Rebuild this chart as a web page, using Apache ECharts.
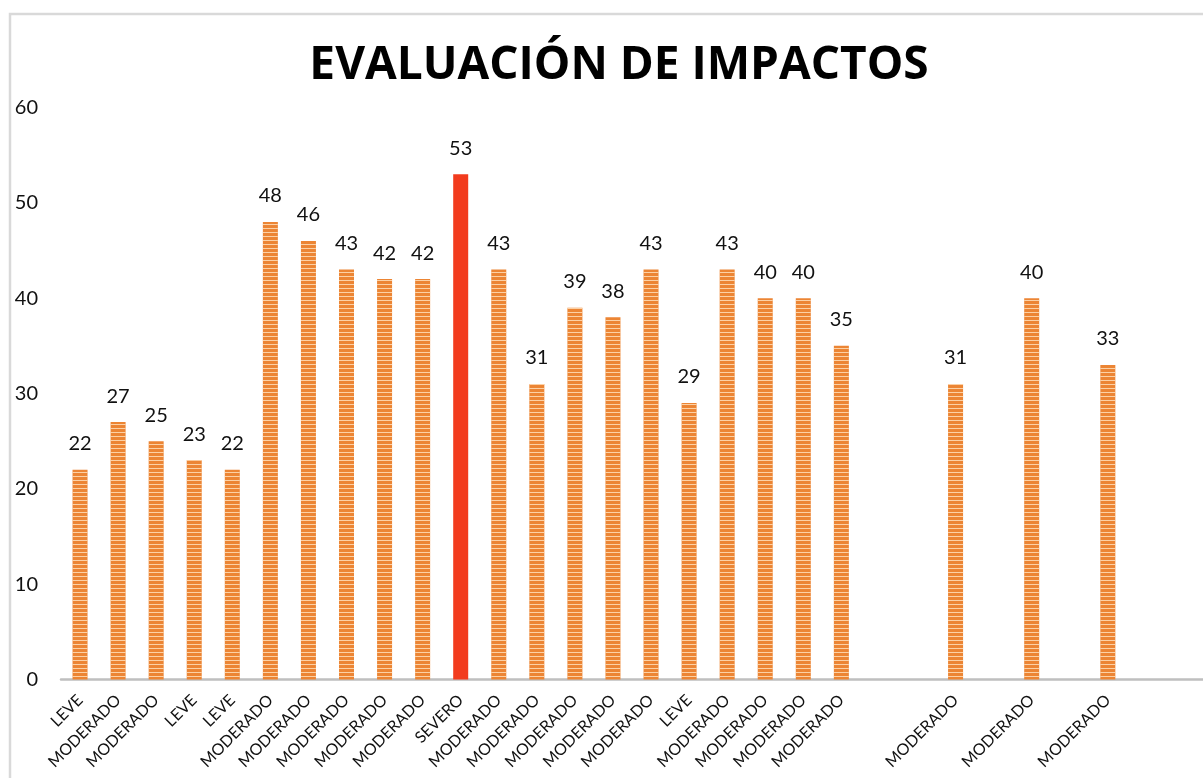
<!DOCTYPE html>
<html>
<head>
<meta charset="utf-8">
<title>Evaluación de impactos</title>
<script src="https://cdn.jsdelivr.net/npm/echarts@6/dist/echarts.min.js"></script>
<style>
  html, body { margin: 0; padding: 0; background: #ffffff; }
  #chart { width: 1203px; height: 778px; }
</style>
</head>
<body>
<div id="chart"></div>
<script>
// Nivel de impacto de cada actividad (las casillas vacías quedan sin barra)
const niveles = [
  'LEVE', 'MODERADO', 'MODERADO', 'LEVE', 'LEVE',
  'MODERADO', 'MODERADO', 'MODERADO', 'MODERADO', 'MODERADO',
  'SEVERO', 'MODERADO', 'MODERADO', 'MODERADO', 'MODERADO',
  'MODERADO', 'LEVE', 'MODERADO', 'MODERADO', 'MODERADO',
  'MODERADO', '', '', 'MODERADO', '',
  'MODERADO', '', 'MODERADO', '', ''
];

// Puntaje de importancia de cada impacto
const puntajes = [
  22, 27, 25, 23, 22,
  48, 46, 43, 42, 42,
  53, 43, 31, 39, 38,
  43, 29, 43, 40, 40,
  35, null, null, 31, null,
  40, null, 33, null, null
];

// Marcas del eje de valores
const ejeY = { min: 0, max: 60, intervalo: 10 };

const FONT = 'Lato, Carlito, "Liberation Sans", sans-serif';
const TEXTO = '#111111';

// Barras naranjas (leve / moderado) y roja (severo), superpuestas en la misma casilla
const datosNormales = puntajes.map((v, i) => (v != null && niveles[i] !== 'SEVERO') ? v : '-');
const datosSeveros = puntajes.map((v, i) => (v != null && niveles[i] === 'SEVERO') ? v : '-');

const etiquetaValor = {
  show: true,
  position: 'top',
  distance: 16,
  fontFamily: FONT,
  fontSize: 20,
  color: TEXTO
};

const chart = echarts.init(document.getElementById('chart'), null, { renderer: 'canvas' });

chart.setOption({
  backgroundColor: '#ffffff',
  animation: false,
  title: {
    text: 'EVALUACIÓN DE IMPACTOS',
    left: 614,
    top: 38,
    textAlign: 'center',
    textStyle: {
      fontFamily: '"Open Sans", "DejaVu Sans", sans-serif',
      fontWeight: 'bold',
      fontSize: 46,
      color: '#000000'
    }
  },
  graphic: [{
    type: 'rect',
    z: -10,
    silent: true,
    shape: { x: 10, y: 14, width: 1300, height: 900 },
    style: { fill: 'none', stroke: '#d9d9d9', lineWidth: 2.5 }
  }],
  grid: {
    left: 61,
    right: 0,
    top: 107.5,
    bottom: 98.5,
    containLabel: false
  },
  xAxis: {
    type: 'category',
    data: niveles,
    axisLine: { show: true, lineStyle: { color: '#bfbfbf', width: 2.5 } },
    axisTick: { show: false },
    axisLabel: {
      interval: 0,
      rotate: 45,
      margin: 18,
      fontFamily: FONT,
      fontSize: 16,
      color: TEXTO
    },
    splitLine: { show: false }
  },
  yAxis: {
    type: 'value',
    min: ejeY.min,
    max: ejeY.max,
    interval: ejeY.intervalo,
    axisLine: { show: false },
    axisTick: { show: false },
    splitLine: { show: false },
    axisLabel: {
      margin: 23,
      fontFamily: FONT,
      fontSize: 20,
      color: TEXTO
    }
  },
  series: [
    {
      name: 'Impacto',
      type: 'bar',
      barWidth: 15,
      barGap: '-100%',
      data: datosNormales,
      itemStyle: {
        color: '#EC8534',
        decal: {
          symbol: 'rect',
          symbolSize: 1,
          dashArrayX: [1, 0],
          dashArrayY: [1, 2.5],
          rotation: 0,
          color: 'rgba(255, 222, 185, 0.85)'
        }
      },
      label: etiquetaValor
    },
    {
      name: 'Impacto severo',
      type: 'bar',
      barWidth: 15,
      barGap: '-100%',
      data: datosSeveros,
      itemStyle: { color: '#F23B1D' },
      label: etiquetaValor
    }
  ]
});
</script>
</body>
</html>
